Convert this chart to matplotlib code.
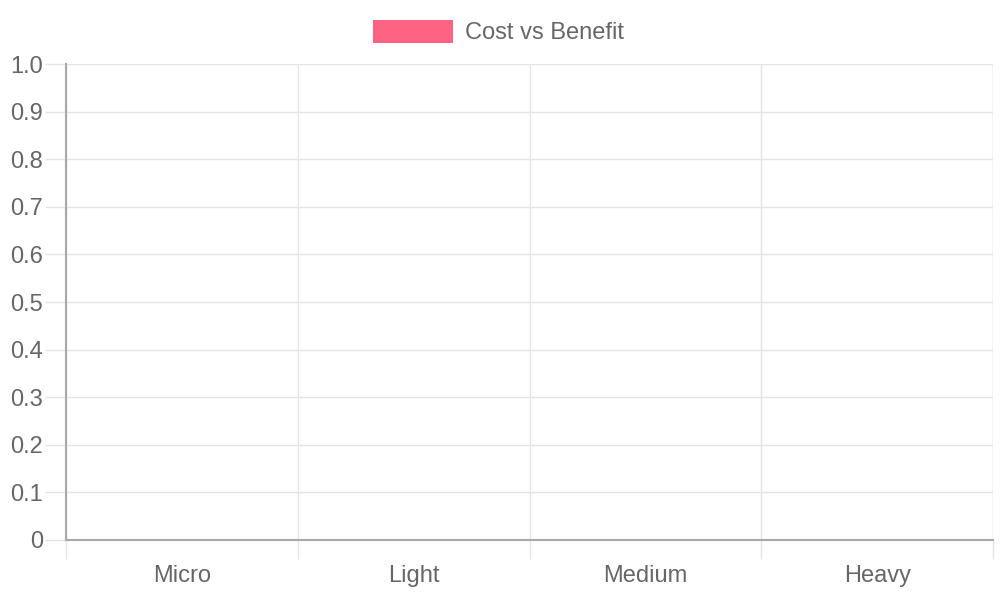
import matplotlib
matplotlib.use("Agg")
import matplotlib.pyplot as plt
from matplotlib.patches import Rectangle
from matplotlib.ticker import FixedLocator

categories = ["Micro", "Light", "Medium", "Heavy"]
values = [0, 0, 0, 0]
series_label = "Cost vs Benefit"
y_ticks = [0, 0.1, 0.2, 0.3, 0.4, 0.5, 0.6, 0.7, 0.8, 0.9, 1.0]
y_tick_labels = ["0", "0.1", "0.2", "0.3", "0.4", "0.5", "0.6", "0.7", "0.8", "0.9", "1.0"]

bar_color = "#ff6384"
text_color = "#666666"
grid_color = "#e5e5e5"
axis_color = "#a8a8a8"
px = 72 / 100  # points per pixel at dpi 100
font_size = 17

plt.rcParams["font.family"] = ["Liberation Sans", "DejaVu Sans"]

fig = plt.figure(figsize=(10, 6), dpi=100)
ax = fig.add_axes([0.066, 0.1, 0.927, 0.7933])

x = list(range(len(categories)))
ax.bar(x, values, width=0.8, color=bar_color)

ax.set_xlim(-0.5, len(categories) - 0.5)
ax.set_ylim(0, 1.0)

ax.set_xticks(x)
ax.set_xticklabels(categories)
ax.xaxis.set_minor_locator(FixedLocator([i - 0.5 for i in range(len(categories) + 1)]))
ax.set_yticks(y_ticks)
ax.set_yticklabels(y_tick_labels)

ax.tick_params(axis="x", which="major", length=0, pad=25 * px, labelsize=font_size, colors=text_color)
ax.tick_params(axis="x", which="minor", length=19 * px, width=1, color=grid_color)
ax.tick_params(axis="y", length=21 * px, width=1, color=grid_color, pad=2 * px,
               labelsize=font_size, labelcolor=text_color)

ax.grid(True, axis="y", color=grid_color, linewidth=1)
ax.grid(True, axis="x", which="minor", color=grid_color, linewidth=1)
ax.set_axisbelow(True)

for side in ["top", "right"]:
    ax.spines[side].set_visible(False)
ax.spines["left"].set_color(axis_color)
ax.spines["bottom"].set_color(axis_color)
ax.spines["left"].set_linewidth(1.5)
ax.spines["bottom"].set_linewidth(1.5)

# right border gridline at the last category edge
ax.axvline(len(categories) - 0.5, color=grid_color, linewidth=1, zorder=0)

# legend drawn at top centre, chart.js style
fig.patches.append(Rectangle((373 / 1000, 1 - 43 / 600), 80 / 1000, 23 / 600,
                             transform=fig.transFigure, facecolor=bar_color, edgecolor="none"))
fig.text(465 / 1000, 1 - 33 / 600, series_label, fontsize=font_size, color=text_color,
         ha="left", va="center")

fig.savefig("out.png", dpi=100)
